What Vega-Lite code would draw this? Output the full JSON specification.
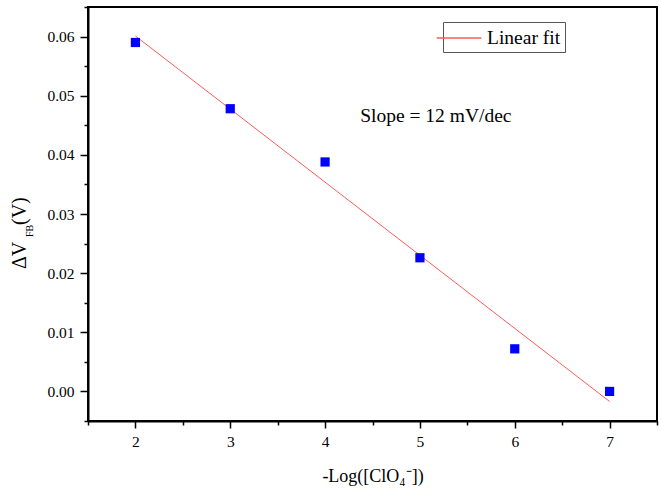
{
  "$schema": "https://vega.github.io/schema/vega-lite/v6.json",
  "width": 569,
  "height": 414,
  "autosize": {"type": "none"},
  "padding": {"left": 88, "top": 7, "right": 4, "bottom": 68},
  "config": {
    "view": {"stroke": "black", "strokeWidth": 2},
    "font": "Liberation Serif",
    "axis": {
      "labelFont": "Liberation Serif",
      "titleFont": "Liberation Serif",
      "labelFontSize": 15.5,
      "labelColor": "black",
      "labelOverlap": false,
      "labelFlush": false,
      "domainColor": "black",
      "domainWidth": 2,
      "tickColor": "black",
      "tickWidth": 1.5,
      "tickCount": 100,
      "grid": false
    }
  },
  "datasets": {
    "points": [
      {"logc": 2, "dv": 0.0590},
      {"logc": 3, "dv": 0.0478},
      {"logc": 4, "dv": 0.0388},
      {"logc": 5, "dv": 0.0226},
      {"logc": 6, "dv": 0.0072},
      {"logc": 7, "dv": 0.0000}
    ],
    "fit": [
      {"logc": 2, "dv": 0.0601, "series": "Linear fit"},
      {"logc": 7, "dv": -0.0017, "series": "Linear fit"}
    ]
  },
  "layer": [
    {
      "data": {"name": "fit"},
      "mark": {"type": "line", "strokeWidth": 1},
      "encoding": {
        "x": {
          "field": "logc", "type": "quantitative",
          "scale": {"domain": [1.5, 7.5], "nice": false, "zero": false},
          "axis": {
            "values": [1.5, 2, 2.5, 3, 3.5, 4, 4.5, 5, 5.5, 6, 6.5, 7, 7.5],
            "tickCount": 100,
            "labelExpr": "datum.value == floor(datum.value) ? format(datum.value, 'd') : ''",
            "tickSize": {"condition": {"test": "datum.value == floor(datum.value)", "value": 7}, "value": 4},
            "labelPadding": 6,
            "title": "-Log([ClO₄⁻])",
            "titleFontSize": 18,
            "titleFontWeight": "normal",
            "titlePadding": 18,
            "titleColor": "black"
          }
        },
        "y": {
          "field": "dv", "type": "quantitative",
          "scale": {"domain": [-0.005, 0.065], "nice": false, "zero": false},
          "axis": {
            "values": [-0.005, 0, 0.005, 0.01, 0.015, 0.02, 0.025, 0.03, 0.035, 0.04, 0.045, 0.05, 0.055, 0.06, 0.065],
            "tickCount": 100,
            "labelExpr": "abs(datum.value*100 - round(datum.value*100)) < 0.001 ? format(datum.value, '.2f') : ''",
            "tickSize": {"condition": {"test": "abs(datum.value*100 - round(datum.value*100)) < 0.001", "value": 8}, "value": 4},
            "labelPadding": 6,
            "title": null
          }
        },
        "stroke": {
          "field": "series", "type": "nominal",
          "scale": {"range": ["#ff5a5a"]},
          "legend": {
            "orient": "none",
            "legendX": 355,
            "legendY": 15,
            "title": null,
            "symbolType": "M-2,0H2",
            "symbolSize": 500,
            "symbolStrokeWidth": 1.5,
            "labelFont": "Liberation Serif",
            "labelFontSize": 19.5,
            "labelColor": "black",
            "strokeColor": "#555555",
            "fillColor": "white",
            "padding": 4,
            "labelOffset": 16
          }
        }
      }
    },
    {
      "data": {"name": "points"},
      "mark": {"type": "square", "filled": true, "color": "#0000ff", "size": 85, "opacity": 1},
      "encoding": {
        "x": {"field": "logc", "type": "quantitative"},
        "y": {"field": "dv", "type": "quantitative"}
      }
    },
    {
      "data": {"values": [{"t": "Slope = 12 mV/dec"}]},
      "mark": {"type": "text", "align": "left", "baseline": "alphabetic", "fontSize": 19.5, "font": "Liberation Serif", "color": "black"},
      "encoding": {
        "x": {"datum": 4.37},
        "y": {"datum": 0.0456},
        "text": {"field": "t"}
      }
    },
    {
      "data": {"values": [{"t": "ΔV"}]},
      "mark": {"type": "text", "align": "left", "baseline": "alphabetic", "angle": 270, "fontSize": 20, "font": "Liberation Serif", "color": "black"},
      "encoding": {
        "x": {"value": -62},
        "y": {"value": 262},
        "text": {"field": "t"}
      }
    },
    {
      "data": {"values": [{"t": "FB"}]},
      "mark": {"type": "text", "align": "left", "baseline": "alphabetic", "angle": 270, "fontSize": 10, "font": "Liberation Serif", "color": "black"},
      "encoding": {
        "x": {"value": -55},
        "y": {"value": 230},
        "text": {"field": "t"}
      }
    },
    {
      "data": {"values": [{"t": "(V)"}]},
      "mark": {"type": "text", "align": "left", "baseline": "alphabetic", "angle": 270, "fontSize": 20, "font": "Liberation Serif", "color": "black"},
      "encoding": {
        "x": {"value": -62},
        "y": {"value": 218},
        "text": {"field": "t"}
      }
    }
  ]
}
